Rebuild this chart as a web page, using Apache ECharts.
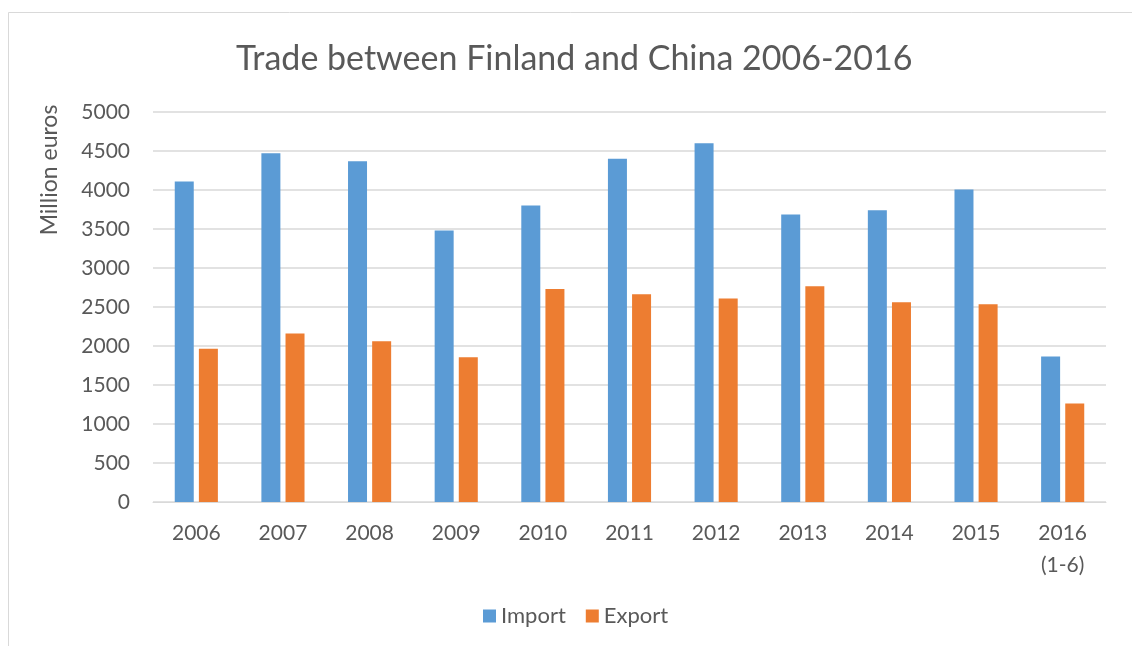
<!DOCTYPE html>
<html>
<head>
<meta charset="utf-8">
<script src="https://cdn.jsdelivr.net/npm/echarts@6/dist/echarts.min.js"></script>
<style>html,body{margin:0;padding:0;background:#fff}#c{width:1132px;height:646px}</style>
</head>
<body>
<div id="c"></div>
<script>
const categories = ['2006','2007','2008','2009','2010','2011','2012','2013','2014','2015','2016\n(1-6)'];
const importValues = [4110, 4470, 4370, 3480, 3800, 4400, 4600, 3685, 3740, 4005, 1865];
const exportValues = [1965, 2160, 2060, 1855, 2730, 2665, 2610, 2765, 2560, 2535, 1262];
const yTicks = { min: 0, max: 5000, interval: 500 };

const FONT = 'Lato';
const TXT = '#595959';
const chart = echarts.init(document.getElementById('c'), null, { renderer: 'canvas' });
chart.setOption({
  animation: false,
  backgroundColor: '#ffffff',
  textStyle: { fontFamily: FONT, color: TXT },
  title: {
    text: 'Trade between Finland and China 2006-2016',
    left: 231, top: 37,
    textStyle: { fontFamily: FONT, fontSize: 34, fontWeight: 'normal', color: TXT }
  },
  graphic: [
    { type: 'rect', shape: { x: 8.5, y: 12.5, width: 1140, height: 660 },
      style: { fill: 'none', stroke: '#d9d9d9', lineWidth: 1 }, silent: true },
    { type: 'text', x: 50, y: 170, rotation: Math.PI / 2,
      style: { text: 'Million euros', fontFamily: FONT, fontSize: 23, fill: TXT,
               textAlign: 'center', textVerticalAlign: 'middle' } }
  ],
  legend: {
    data: ['Import', 'Export'], bottom: 14, left: 478,
    itemWidth: 13, itemHeight: 13, itemGap: 20, icon: 'rect',
    textStyle: { fontFamily: FONT, fontSize: 22, color: TXT }
  },
  grid: { left: 153, right: 26, top: 112, bottom: 144, containLabel: false },
  xAxis: {
    type: 'category', data: categories,
    axisLine: { lineStyle: { color: '#d9d9d9', width: 1 } },
    axisTick: { show: false },
    axisLabel: { fontFamily: FONT, fontSize: 21, color: TXT, margin: 15, lineHeight: 32, interval: 0 }
  },
  yAxis: {
    type: 'value', min: yTicks.min, max: yTicks.max, interval: yTicks.interval,
    axisLine: { show: false }, axisTick: { show: false },
    splitLine: { lineStyle: { color: '#d9d9d9', width: 1.5 } },
    axisLabel: { fontFamily: FONT, fontSize: 21, color: TXT, margin: 23, formatter: v => String(v) }
  },
  series: [
    { name: 'Import', type: 'bar', data: importValues, barWidth: 19, barGap: '27%',
      itemStyle: { color: '#5B9BD5' } },
    { name: 'Export', type: 'bar', data: exportValues, barWidth: 19, barGap: '27%',
      itemStyle: { color: '#ED7D31' } }
  ]
});
</script>
</body>
</html>
